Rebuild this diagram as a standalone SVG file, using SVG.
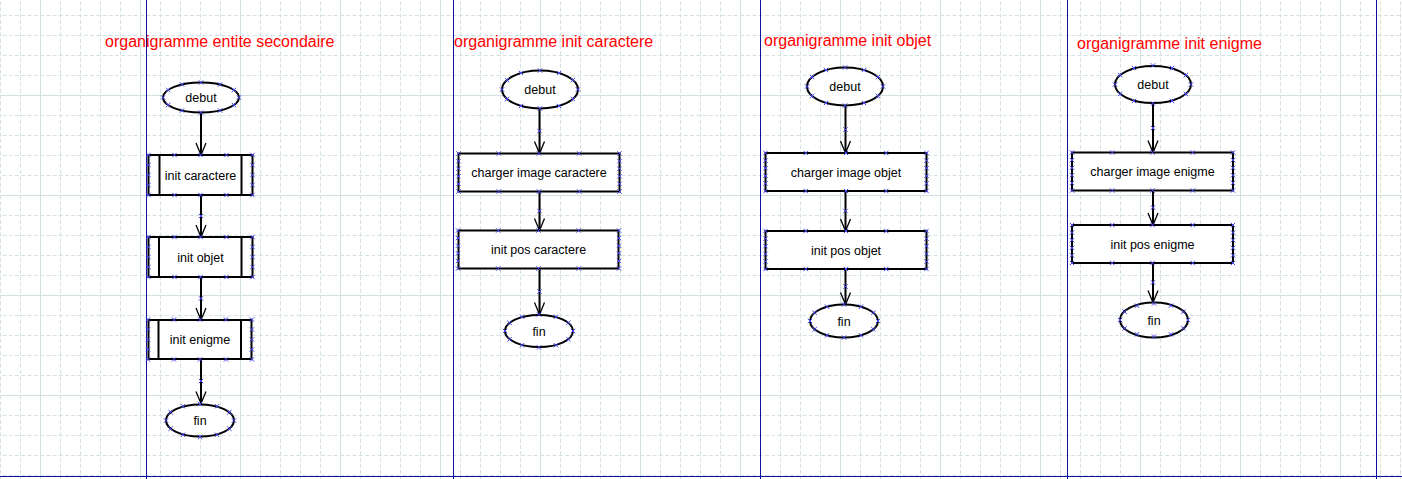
<svg xmlns="http://www.w3.org/2000/svg" xmlns:xlink="http://www.w3.org/1999/xlink" width="1402" height="479" viewBox="0 0 1402 479">
<style>
.title{font-family:"Liberation Sans",Arial,sans-serif;font-size:16px;fill:#ff0000}
.lbl{font-family:"Liberation Sans",Arial,sans-serif;font-size:12.5px;fill:#000;text-anchor:middle}
.shape{fill:#fff;stroke:#000;stroke-width:2}
.inner{stroke:#000;stroke-width:2}
.mk{fill:none;stroke:none;marker-start:url(#xm);marker-mid:url(#xm);marker-end:url(#xm)}
.conn path{fill:none;stroke:#000;stroke-width:2;marker-mid:url(#xm);marker-end:url(#arr)}
.sep{stroke:#1010a0;stroke-width:1}
.gd{stroke:#d5e2e2;stroke-width:1;stroke-dasharray:4 2.25}
</style>
<defs>
<pattern id="grid" patternUnits="userSpaceOnUse" x="40" y="-5" width="100" height="100">
<line class="gd" x1="20.5" y1="0" x2="20.5" y2="100"/>
<line class="gd" x1="40.5" y1="0" x2="40.5" y2="100"/>
<line class="gd" x1="60.5" y1="0" x2="60.5" y2="100"/>
<line class="gd" x1="80.5" y1="0" x2="80.5" y2="100"/>
<line class="gd" x1="0" y1="20.5" x2="100" y2="20.5"/>
<line class="gd" x1="0" y1="40.5" x2="100" y2="40.5"/>
<line class="gd" x1="0" y1="60.5" x2="100" y2="60.5"/>
<line class="gd" x1="0" y1="80.5" x2="100" y2="80.5"/>
<rect x="0" y="0" width="1" height="100" fill="#d2e0e0"/>
<rect x="0" y="0" width="100" height="1" fill="#d2e0e0"/>
</pattern>
<marker id="xm" viewBox="-3 -3 6 6" markerWidth="6" markerHeight="6" markerUnits="userSpaceOnUse" refX="0" refY="0" orient="0" overflow="visible">
<path d="M-2.2,-2.2L2.2,2.2M2.2,-2.2L-2.2,2.2" fill="none" stroke="#4646f0" stroke-width="1"/>
</marker>
<marker id="arr" viewBox="-14 -7 16 14" markerWidth="16" markerHeight="14" markerUnits="userSpaceOnUse" refX="0" refY="0" orient="auto" overflow="visible">
<path d="M-12,-5L0,0L-12,5" fill="none" stroke="#000" stroke-width="1.3"/>
</marker>
<path id="ep-d" class="mk" d="M38,0L32.9,9.5L19,16.5L0,19L-19,16.5L-32.9,9.5L-38,0L-32.9,-9.5L-19,-16.5L0,-19L19,-16.5L32.9,-9.5"/>
<path id="ep-d1" class="mk" d="M38,0L32.9,7.5L19,13L0,15L-19,13L-32.9,7.5L-38,0L-32.9,-7.5L-19,-13L0,-15L19,-13L32.9,-7.5"/>
<path id="ep-f" class="mk" d="M34,0L29.4,8.25L17,14.3L0,16.5L-17,14.3L-29.4,8.25L-34,0L-29.4,-8.25L-17,-14.3L0,-16.5L17,-14.3L29.4,-8.25"/>
<path id="rp" class="mk" d="M0,0L40.25,0L80.5,0L120.75,0L161,0L161,7.6L161,15.2L161,22.8L161,30.4L161,38L120.75,38L80.5,38L40.25,38L0,38L0,30.4L0,22.8L0,15.2L0,7.6"/>
<path id="sp" class="mk" d="M0,0L26,0L52,0L78,0L104,0L104,10L104,20L104,30L104,40L78,40L52,40L26,40L0,40L0,30L0,20L0,10"/>
</defs>

<rect x="0" y="0" width="1402" height="479" fill="#fff"/>
<rect x="0" y="0" width="1402" height="479" fill="url(#grid)"/>

<g id="separators">
<line class="sep" x1="146.5" y1="0" x2="146.5" y2="479"/>
<line class="sep" x1="453.5" y1="0" x2="453.5" y2="479"/>
<line class="sep" x1="760.5" y1="0" x2="760.5" y2="479"/>
<line class="sep" x1="1067.5" y1="0" x2="1067.5" y2="479"/>
<line class="sep" x1="1376.5" y1="0" x2="1376.5" y2="479"/>
<line class="sep" x1="0" y1="476.5" x2="1402" y2="476.5"/>
</g>

<g id="titles">
<text class="title" x="105" y="47">organigramme entite secondaire</text>
<text class="title" x="454" y="47">organigramme init caractere</text>
<text class="title" x="764" y="46">organigramme init objet</text>
<text class="title" x="1077" y="49">organigramme init enigme</text>
</g>

<g id="connectors" class="conn">
<path d="M201,113 V155" style="marker-mid:none"/>
<path d="M201,195 V216 V237"/>
<path d="M201,277 V298.5 V320"/>
<path d="M201,359 V381 V403.5"/>
<path d="M539.5,109 V131 V153.5"/>
<path d="M539.5,191.5 V211 V230.5"/>
<path d="M539.5,268.5 V291.5 V314.5"/>
<path d="M845.5,106 V129.5 V153"/>
<path d="M845.5,191 V211 V231"/>
<path d="M845.5,269 V286.5 V304.5"/>
<path d="M1153,103.5 V128 V152.5"/>
<path d="M1153,190.5 V207.5 V225"/>
<path d="M1153,263 V282.5 V302.5"/>
</g>

<g id="c1-debut"><ellipse class="shape" cx="201" cy="97.5" rx="38" ry="15"/><use xlink:href="#ep-d1" x="201" y="97.5"/><text class="lbl" x="201" y="102">debut</text></g>
<g id="c1-init-caractere"><rect class="shape" x="148.5" y="155" width="104" height="40"/><line class="inner" x1="159.5" y1="155" x2="159.5" y2="195"/><line class="inner" x1="241.5" y1="155" x2="241.5" y2="195"/><use xlink:href="#sp" x="148.5" y="155"/><text class="lbl" x="200.5" y="179.5">init caractere</text></g>
<g id="c1-init-objet"><rect class="shape" x="148.5" y="237" width="104" height="40"/><line class="inner" x1="159" y1="237" x2="159" y2="277"/><line class="inner" x1="241.5" y1="237" x2="241.5" y2="277"/><use xlink:href="#sp" x="148.5" y="237"/><text class="lbl" x="200.5" y="261.5">init objet</text></g>
<g id="c1-init-enigme"><rect class="shape" x="148.5" y="320" width="103" height="39"/><line class="inner" x1="158.5" y1="320" x2="158.5" y2="359"/><line class="inner" x1="241" y1="320" x2="241" y2="359"/><use xlink:href="#sp" x="148" y="319.5"/><text class="lbl" x="200" y="344">init enigme</text></g>
<g id="c1-fin"><ellipse class="shape" cx="200" cy="420.5" rx="34" ry="16"/><use xlink:href="#ep-f" x="200" y="420.5"/><text class="lbl" x="200" y="425">fin</text></g>

<g id="c2-debut"><ellipse class="shape" cx="540" cy="89.5" rx="38" ry="19"/><use xlink:href="#ep-d" x="540" y="89.5"/><text class="lbl" x="540" y="94">debut</text></g>
<g id="c2-charger-image"><rect class="shape" x="458.5" y="153.5" width="161" height="38"/><use xlink:href="#rp" x="458.5" y="153.5"/><text class="lbl" x="539" y="177">charger image caractere</text></g>
<g id="c2-init-pos"><rect class="shape" x="458.5" y="230.5" width="160" height="38"/><use xlink:href="#rp" x="458" y="230.5"/><text class="lbl" x="538.5" y="254">init pos caractere</text></g>
<g id="c2-fin"><ellipse class="shape" cx="539" cy="331" rx="34" ry="16"/><use xlink:href="#ep-f" x="539" y="331"/><text class="lbl" x="539" y="335.5">fin</text></g>

<g id="c3-debut"><ellipse class="shape" cx="845" cy="86.5" rx="38" ry="19"/><use xlink:href="#ep-d" x="845" y="86.5"/><text class="lbl" x="845" y="91">debut</text></g>
<g id="c3-charger-image"><rect class="shape" x="765.5" y="153" width="161" height="38"/><use xlink:href="#rp" x="765.5" y="153"/><text class="lbl" x="846" y="176.5">charger image objet</text></g>
<g id="c3-init-pos"><rect class="shape" x="765.5" y="231" width="161" height="38"/><use xlink:href="#rp" x="765.5" y="231"/><text class="lbl" x="846" y="254.5">init pos objet</text></g>
<g id="c3-fin"><ellipse class="shape" cx="844" cy="321" rx="34" ry="16.5"/><use xlink:href="#ep-f" x="844" y="321"/><text class="lbl" x="844" y="325.5">fin</text></g>

<g id="c4-debut"><ellipse class="shape" cx="1153" cy="84.5" rx="38" ry="18.5"/><use xlink:href="#ep-d" x="1153" y="84.5"/><text class="lbl" x="1153" y="89">debut</text></g>
<g id="c4-charger-image"><rect class="shape" x="1072" y="152.5" width="161" height="38"/><use xlink:href="#rp" x="1072" y="152.5"/><text class="lbl" x="1152.5" y="176">charger image enigme</text></g>
<g id="c4-init-pos"><rect class="shape" x="1072" y="225" width="161" height="38"/><use xlink:href="#rp" x="1072" y="225"/><text class="lbl" x="1152.5" y="248.5">init pos enigme</text></g>
<g id="c4-fin"><ellipse class="shape" cx="1154" cy="320" rx="34" ry="17.5"/><use xlink:href="#ep-f" x="1154" y="320"/><text class="lbl" x="1154" y="324.5">fin</text></g>
</svg>
